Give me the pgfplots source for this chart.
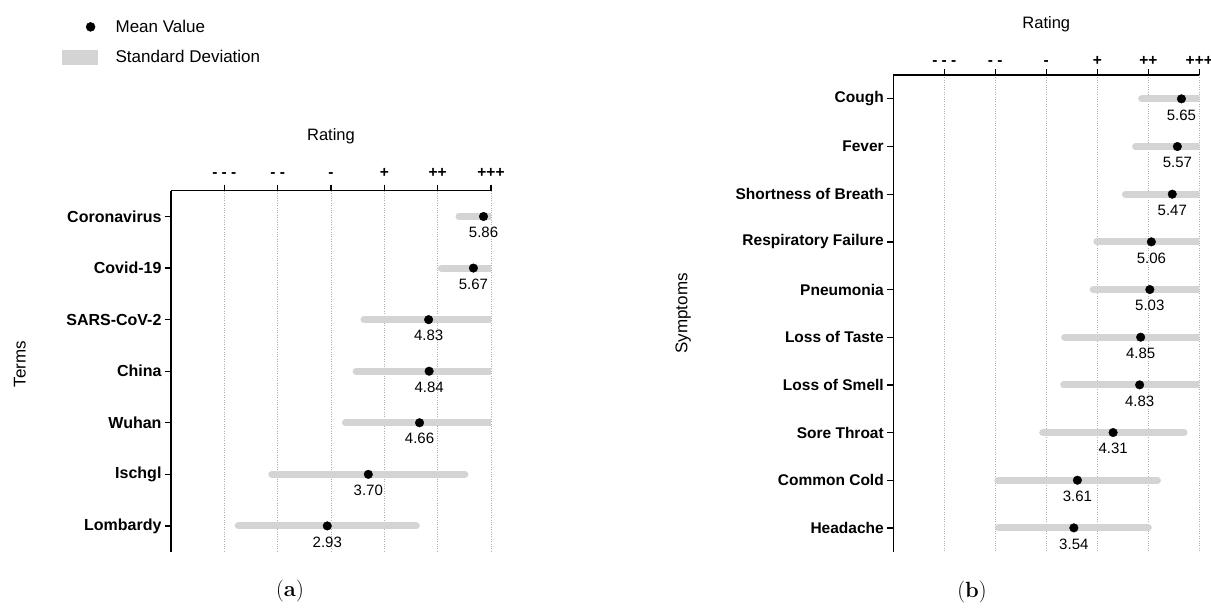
\documentclass[border=0pt]{standalone}
\usepackage{pgfplots}
\pgfplotsset{compat=1.18}
\usepackage{pgfplotstable}
\usepackage{fontspec}
\newfontfamily\arial{Liberation Sans}
\definecolor{sdgray}{RGB}{212,212,212}
\definecolor{gridgray}{RGB}{175,175,175}

% y = row, mean rating, ends of the SD bar (clipped at 6)
\pgfplotstableread{
y mean lo hi
1 5.86 5.40 6.32
2 5.67 5.07 6.27
3 4.83 3.62 6.04
4 4.84 3.47 6.21
5 4.66 3.27 6.05
6 3.70 1.89 5.51
7 2.93 1.26 4.60
}\terms

\pgfplotstableread{
y mean lo hi
1 5.65 4.87 6.43
2 5.57 4.75 6.39
3 5.47 4.55 6.39
4 5.06 3.99 6.13
5 5.03 3.92 6.14
6 4.85 3.36 6.34
7 4.83 3.34 6.32
8 4.31 2.93 5.70
9 3.61 2.05 5.18
10 3.54 2.06 5.00
}\symptoms

\pgfplotsset{
  rating/.style={
    scale only axis,
    anchor=north west,
    xmin=0, xmax=6,
    y dir=reverse,
    axis x line=top, axis y line=left,
    x axis line style={-}, y axis line style={-},
    axis line style={line width=1.5pt, black},
    tick align=outside,
    major tick length=6pt,
    tick style={line width=1.3pt, black},
    xtick={1,...,6},
    xticklabels={- - -,- -,-,+,++,+++},
    xticklabel style={font=\arial\bfseries\fontsize{15.5}{18}\selectfont},
    yticklabel style={font=\arial\bfseries\fontsize{16}{19}\selectfont},
    xmajorgrids,
    grid style={dotted, gridgray, line width=0.7pt},
    title={Rating},
    title style={font=\arial\fontsize{16.5}{20}\selectfont, anchor=base},
    ylabel style={font=\arial\fontsize{17}{20}\selectfont, anchor=center},
  },
  sdbar/.style={only marks, mark=none,
    /pgfplots/error bars/x dir=both,
    /pgfplots/error bars/x explicit,
    /pgfplots/error bars/error mark=none,
    /pgfplots/error bars/error bar style={line width=7pt, sdgray, line cap=round}},
  meanpt/.style={only marks, mark=*, black, mark size=4.3pt,
    point meta=x,
    nodes near coords={\pgfmathprintnumber[fixed,fixed zerofill,precision=2,assume math mode=true]{\pgfplotspointmeta}},
    every node near coord/.append style={font=\arial\fontsize{15}{18}\selectfont,
      anchor=north, inner sep=0pt, yshift=-10.5pt}},
}

\begin{document}
\begin{tikzpicture}
\path[use as bounding box] (0pt,0pt) rectangle (1211pt,-608pt);

\begin{axis}[rating,
  at={(171pt,-190.7pt)}, width=320pt, height=361pt,
  ymin=0.5, ymax=7.5, ytick={1,...,7},
  yticklabels={Coronavirus,Covid-19,SARS-CoV-2,China,Wuhan,Ischgl,Lombardy},
  xticklabel style={yshift=3.5pt},
  title style={at={(axis description cs:0.5,1)}, yshift=44pt},
  ylabel={Terms},
  ylabel style={at={(axis description cs:-0.472,0.52)}},
  legend style={at={(axis description cs:-0.34,1.479)}, anchor=north west,
    draw=none, fill=none, inner sep=0pt, row sep=12pt,
    font=\arial\fontsize{17}{20}\selectfont},
  legend cell align=left,
]
\addlegendimage{legend image code/.code={\fill[black] (28pt,0pt) circle (4.5pt); \path[draw=none,fill=none] (0pt,-7pt) rectangle (51pt,7pt);}}
\addlegendentry{Mean Value}
\addlegendimage{legend image code/.code={\fill[sdgray] (0pt,-7pt) rectangle (35pt,7pt); \path[draw=none,fill=none] (0pt,-7pt) rectangle (51pt,7pt);}}
\addlegendentry{Standard Deviation}
\addplot[forget plot, sdbar] table[x=mean, y=y,
  x error plus expr=\thisrow{hi}-\thisrow{mean},
  x error minus expr=\thisrow{mean}-\thisrow{lo}] {\terms};
\addplot[forget plot, meanpt] table[x=mean, y=y] {\terms};
\end{axis}

\begin{axis}[rating,
  at={(893.3pt,-75pt)}, width=306pt, height=476.7pt,
  ymin=0.5, ymax=10.5, ytick={1,...,10},
  yticklabels={Cough,Fever,Shortness of Breath,Respiratory Failure,Pneumonia,Loss of Taste,Loss of Smell,Sore Throat,Common Cold,Headache},
  yticklabel style={font=\arial\bfseries\fontsize{15.5}{19}\selectfont},
  title style={at={(axis description cs:0.5,1)}, yshift=41pt},
  ylabel={Symptoms},
  ylabel style={at={(axis description cs:-0.687,0.5)}},
]
\addplot[sdbar] table[x=mean, y=y,
  x error plus expr=\thisrow{hi}-\thisrow{mean},
  x error minus expr=\thisrow{mean}-\thisrow{lo}] {\symptoms};
\addplot[meanpt] table[x=mean, y=y] {\symptoms};
\end{axis}

\node[font=\fontsize{22}{26}\selectfont] at (290pt,-591pt) {(\textbf{a})};
\node[font=\fontsize{22}{26}\selectfont] at (972pt,-592pt) {(\textbf{b})};
\end{tikzpicture}
\end{document}
